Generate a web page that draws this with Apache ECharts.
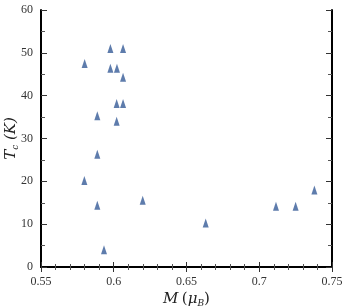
<!DOCTYPE html>
<html>
<head>
<meta charset="utf-8">
<script src="https://cdn.jsdelivr.net/npm/echarts@6/dist/echarts.min.js"></script>
<style>
  html, body { margin: 0; padding: 0; background: #fff; }
  #chart { width: 346px; height: 308px; }
</style>
</head>
<body>
<div id="chart"></div>
<script>
  // magnetic moment M (muB) vs Tc (K)
  const momentM = [0.5977, 0.6064, 0.580, 0.5977, 0.6022, 0.6064, 0.602, 0.6064, 0.5887, 0.602,
                   0.5887, 0.5798, 0.5887, 0.6199, 0.5933, 0.6632, 0.7115, 0.725, 0.7379];
  const curieTc = [51.0, 51.0, 47.5, 46.4, 46.4, 44.3, 38.2, 38.2, 35.3, 34.0,
                   26.3, 20.2, 14.4, 15.6, 4.0, 10.3, 14.2, 14.2, 18.0];

  const points = momentM.map((m, i) => [m, curieTc[i]]);

  const serif = 'DejaVu Serif';
  const tickFont = 'Liberation Serif';
  const lineStyle = { color: '#000', width: 2 };

  const chart = echarts.init(document.getElementById('chart'), null, { renderer: 'canvas' });
  chart.setOption({
    animation: false,
    grid: { left: 41, right: 14, top: 10, bottom: 41, outerBoundsMode: 'none', containLabel: false },
    xAxis: [{
      type: 'value', min: 0.55, max: 0.75, interval: 0.05,
      axisLine: { onZero: false, lineStyle: lineStyle },
      axisTick: { inside: true, length: 5, lineStyle: { color: '#333', width: 1 } },
      minorTick: { show: true, splitNumber: 5, length: 3, lineStyle: { color: '#555' } },
      splitLine: { show: false },
      axisLabel: { fontFamily: tickFont, fontSize: 12, color: '#333', margin: 9 },
      name: '{i|M} {n|(}{i|μ}{s|B}{n|)}',
      nameLocation: 'middle', nameGap: 24, nameMoveOverlap: false,
      nameTextStyle: {
        rich: {
          i: { fontFamily: serif, fontStyle: 'italic', fontSize: 15, color: '#222' },
          n: { fontFamily: serif, fontSize: 15, color: '#222' },
          s: { fontFamily: serif, fontStyle: 'italic', fontSize: 9, color: '#222', padding: [8, 0, 0, 0] }
        }
      }
    }, {
      type: 'value', position: 'top', min: 0.55, max: 0.75, interval: 0.05,
      axisLine: { lineStyle: lineStyle },
      axisTick: { inside: true, length: 5, lineStyle: { color: '#333', width: 1 } },
      minorTick: { show: true, splitNumber: 5, length: 3, lineStyle: { color: '#555' } },
      splitLine: { show: false },
      axisLabel: { show: false }
    }],
    yAxis: [{
      type: 'value', min: 0, max: 60, interval: 10,
      axisLine: { show: true, onZero: false, lineStyle: lineStyle },
      axisTick: { show: true, inside: true, length: 6, lineStyle: { color: '#333', width: 1 } },
      minorTick: { show: true, splitNumber: 2, length: 4, lineStyle: { color: '#555' } },
      splitLine: { show: false },
      axisLabel: { fontFamily: tickFont, fontSize: 12, color: '#333', margin: 8 },
      name: '{i|T}{s|c}{i| (K)}',
      nameLocation: 'middle', nameGap: 21, nameRotate: 90, nameMoveOverlap: false,
      nameTextStyle: {
        rich: {
          i: { fontFamily: serif, fontStyle: 'italic', fontSize: 15, color: '#222' },
          s: { fontFamily: serif, fontStyle: 'italic', fontSize: 9, color: '#222', padding: [8, 0, 0, 0] }
        }
      }
    }, {
      type: 'value', position: 'right', min: 0, max: 60, interval: 10,
      axisLine: { show: true, lineStyle: lineStyle },
      axisTick: { show: true, inside: true, length: 6, lineStyle: { color: '#333', width: 1 } },
      minorTick: { show: true, splitNumber: 2, length: 4, lineStyle: { color: '#555' } },
      splitLine: { show: false },
      axisLabel: { show: false }
    }],
    series: [{
      type: 'scatter',
      data: points,
      symbol: 'triangle',
      symbolSize: [6, 9],
      itemStyle: { color: '#365b97' }
    }]
  });
</script>
</body>
</html>
